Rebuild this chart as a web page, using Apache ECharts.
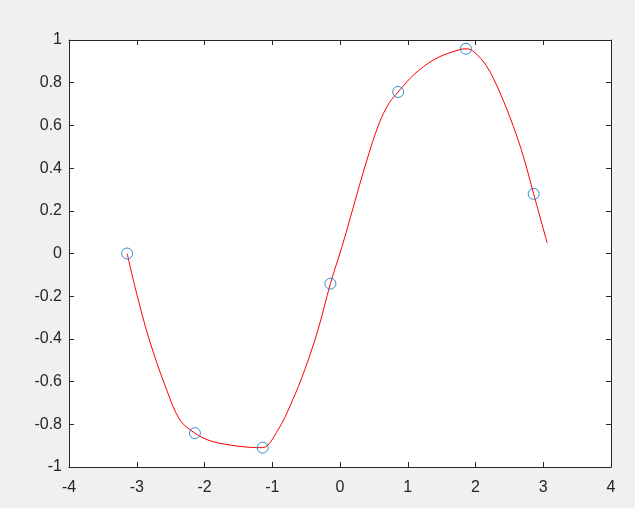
<!DOCTYPE html>
<html>
<head>
<meta charset="utf-8">
<script src="https://cdn.jsdelivr.net/npm/echarts@6/dist/echarts.min.js"></script>
<style>
html,body{margin:0;padding:0;background:#f0f0f0;}
#main{width:635px;height:508px;}
</style>
</head>
<body>
<div id="main"></div>
<script>
// sample points (circles)
var sampleX = [-3.1416, -2.1416, -1.1416, -0.1416, 0.8584, 1.8584, 2.8584];
var sampleY = [0, -0.8415, -0.9093, -0.1411, 0.7568, 0.9589, 0.2794];
// red interpolated curve
var curveX = [-3.1416, -3.015, -2.815, -2.558, -2.362, -2.1416, -1.919, -1.624, -1.328, -1.1416,
  -0.915, -0.719, -0.521, -0.325, -0.1416, 0.03, 0.20, 0.384, 0.580, 0.728, 0.8584,
  1.092, 1.387, 1.683, 1.8584, 1.968, 2.165, 2.362, 2.558, 2.706, 2.8584, 3.058];
var curveY = [0, -0.170, -0.404, -0.639, -0.780, -0.8415, -0.877, -0.897, -0.908, -0.9093,
  -0.826, -0.701, -0.545, -0.358, -0.1411, 0.033, 0.221, 0.424, 0.612, 0.706, 0.7568,
  0.838, 0.908, 0.947, 0.9589, 0.947, 0.877, 0.752, 0.596, 0.455, 0.2794, 0.049];
var xTicks = [-4, -3, -2, -1, 0, 1, 2, 3, 4];
var yTicks = [-1, -0.8, -0.6, -0.4, -0.2, 0, 0.2, 0.4, 0.6, 0.8, 1];

var axisColor = '#262626';
var font = 'Arial, "Liberation Sans", Helvetica, sans-serif';
function pairs(xs, ys){ return xs.map(function(x,i){ return [x, ys[i]]; }); }

var chart = echarts.init(document.getElementById('main'), null, {renderer:'canvas'});
var baseAxis = {
  axisLine:{show:true, onZero:false, lineStyle:{color:axisColor, width:1}},
  axisTick:{show:true, inside:true, length:5, lineStyle:{color:axisColor, width:1}},
  splitLine:{show:false}
};
chart.setOption({
  animation:false,
  backgroundColor:'#f0f0f0',
  grid:{left:69, right:24, top:40, bottom:41, show:true, backgroundColor:'#ffffff', borderWidth:0},
  xAxis:[
    Object.assign({}, baseAxis, {type:'value', position:'bottom', min:xTicks[0], max:xTicks[xTicks.length-1], interval:1,
      axisLabel:{show:true, color:axisColor, fontFamily:font, fontSize:16, margin:13,
        formatter:function(v){ return String(Math.round(v)); }}}),
    Object.assign({}, baseAxis, {type:'value', position:'top', min:xTicks[0], max:xTicks[xTicks.length-1], interval:1,
      axisLabel:{show:false}})
  ],
  yAxis:[
    Object.assign({}, baseAxis, {type:'value', position:'left', min:yTicks[0], max:yTicks[yTicks.length-1], interval:0.2,
      axisLabel:{show:true, color:axisColor, fontFamily:font, fontSize:16, margin:7,
        formatter:function(v){ return String(Math.round(v*10)/10); }}}),
    Object.assign({}, baseAxis, {type:'value', position:'right', min:yTicks[0], max:yTicks[yTicks.length-1], interval:0.2,
      axisLabel:{show:false}})
  ],
  series:[
    {type:'line', data:pairs(curveX, curveY), showSymbol:false, symbol:'none', smooth:0.35,
      lineStyle:{color:'#ff0000', width:1}, z:2},
    {type:'scatter', data:pairs(sampleX, sampleY), symbol:'circle', symbolSize:11,
      itemStyle:{color:'rgba(0,0,0,0)', borderColor:'#0072BD', borderWidth:1}, z:3}
  ]
});
</script>
</body>
</html>
